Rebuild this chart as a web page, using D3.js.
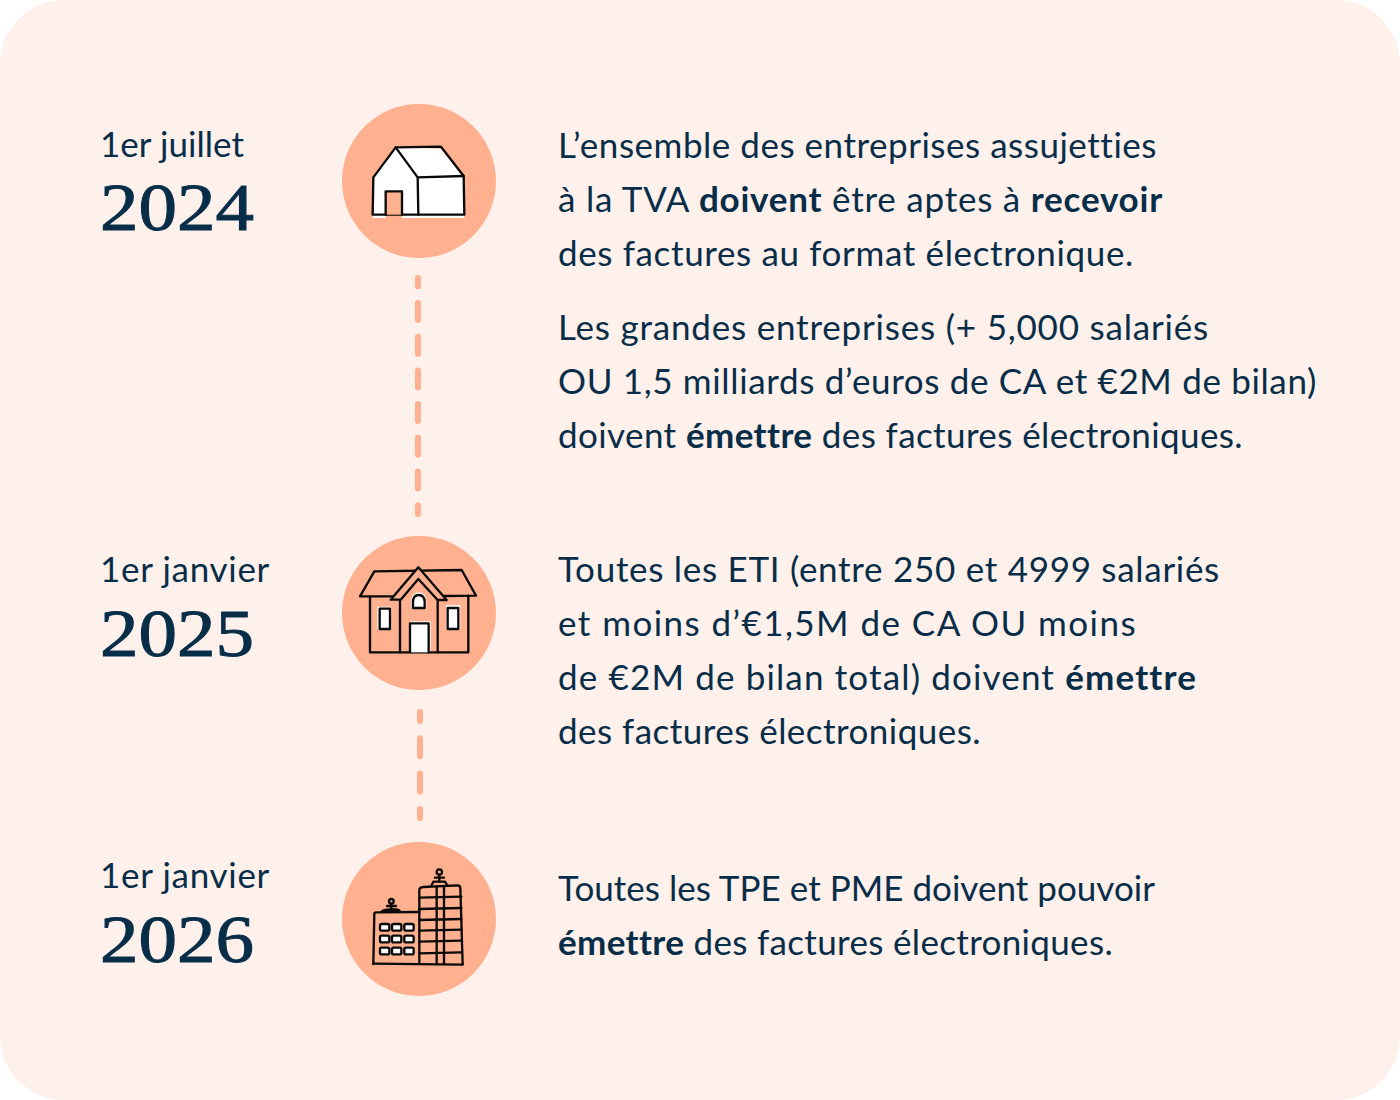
<!DOCTYPE html>
<html lang="fr">

<head>
    <meta charset="UTF-8">
    <script src="https://d3js.org/d3.v7.min.js"></script>
    <title>Facturation électronique</title>
    <style>
        html, body { margin: 0; padding: 0; background: #fff; }
        svg { display: block; }
        text { font-variant-ligatures: none; font-kerning: normal; }
    </style>
</head>

<body>
    <svg id="chart" width="1400" height="1100" viewBox="0 0 1400 1100"></svg>
    <script>
        const years = ["2024", "2025", "2026"];
        const dates = ["1er juillet", "1er janvier", "1er janvier"];
        const icons = ["house", "villa", "towers"];

        // each line is a list of runs, b = bold
        const text2024 = [
            [{ t: "L’ensemble des entreprises assujetties" }],
            [{ t: "à la TVA " }, { t: "doivent", b: 1 }, { t: " être aptes à " }, { t: "recevoir", b: 1 }],
            [{ t: "des factures au format électronique." }]
        ];
        const text2024b = [
            [{ t: "Les grandes entreprises (+ 5,000 salariés" }],
            [{ t: "OU 1,5 milliards d’euros de CA et €2M de bilan)" }],
            [{ t: "doivent " }, { t: "émettre", b: 1 }, { t: " des factures électroniques." }]
        ];
        const text2025 = [
            [{ t: "Toutes les ETI (entre 250 et 4999 salariés" }],
            [{ t: "et moins d’€1,5M de CA OU moins" }],
            [{ t: "de €2M de bilan total) doivent " }, { t: "émettre", b: 1 }],
            [{ t: "des factures électroniques." }]
        ];
        const text2026 = [
            [{ t: "Toutes les TPE et PME doivent pouvoir" }],
            [{ t: "émettre", b: 1 }, { t: " des factures électroniques." }]
        ];

        const paragraphs = [text2024, text2024b, text2025, text2026];

        const navy = "#082d48", peach = "#ffb08f", bg = "#fef0eb", ink = "#0a0a0a";
        const sans = "Lato, sans-serif", serif = "'Liberation Serif', serif";

        const svg = d3.select("#chart");

        svg.append("rect")
            .attr("width", 1400).attr("height", 1100)
            .attr("rx", 64)
            .attr("fill", bg);

        const yCircle = d3.scaleOrdinal().domain(years).range([181, 613, 919]);

        // stretch a line to where it ends in the reference, the fonts differ
        function fitWidth(sel, right) {
            sel.each(function (d, i) {
                const node = d3.select(this);
                const x = +node.attr("x") || 0;
                const chars = node.text().length;
                const len = this.getComputedTextLength();
                node.style("letter-spacing", ((right(d, i) - x - len) / chars) + "px");
            });
        }

        // dashed connectors between the circles
        svg.selectAll("line.link")
            .data([
                { x: 418, y1: 278, y2: 514, dash: "17 16.7", offset: 8.7 },
                { x: 420, y1: 712, y2: 818, dash: "18 17.3", offset: 9 }
            ])
            .enter().append("line")
            .attr("class", "link")
            .attr("x1", d => d.x).attr("x2", d => d.x)
            .attr("y1", d => d.y1).attr("y2", d => d.y2)
            .attr("stroke", peach)
            .attr("stroke-width", 6)
            .attr("stroke-linecap", "round")
            .attr("stroke-dasharray", d => d.dash)
            .attr("stroke-dashoffset", d => d.offset);

        svg.selectAll("circle.step")
            .data(years)
            .enter().append("circle")
            .attr("class", "step")
            .attr("cx", 419)
            .attr("cy", d => yCircle(d))
            .attr("r", 77)
            .attr("fill", peach);

        const left = svg.selectAll("g.date")
            .data(years)
            .enter().append("g")
            .attr("class", "date")
            .attr("transform", d => `translate(100,${yCircle(d)})`);

        left.append("text")
            .attr("y", d => d == "2024" ? -24 : -31)
            .attr("font-family", sans)
            .attr("font-size", 35)
            .attr("fill", navy)
            .text((d, i) => dates[i])
            .call(fitWidth, d => d == "2024" ? 144 : 170);

        left.append("text")
            .attr("y", d => d == "2024" ? 49 : 42.5)
            .attr("font-family", serif)
            .attr("font-size", 68)
            .attr("stroke", navy)
            .attr("stroke-width", 1)
            .attr("fill", navy)
            .attr("textLength", 154)
            .attr("lengthAdjust", "spacingAndGlyphs")
            .text(d => d);

        // paragraphs, first baseline of each
        const firstBaseline = [158, 340, 582, 901];
        const lineGap = 54;
        const lineEnds = [
            [1157, 1163, 1134],
            [1209, 1317, 1243],
            [1220, 1137, 1197, 981],
            [1155, 1113]
        ];

        svg.selectAll("g.para")
            .data(paragraphs)
            .enter().append("g")
            .attr("class", "para")
            .each(function (lines, p) {
                const rows = d3.select(this).selectAll("text")
                    .data(lines)
                    .enter().append("text")
                    .attr("x", 558)
                    .attr("y", (d, i) => firstBaseline[p] + i * lineGap)
                    .attr("font-family", sans)
                    .attr("font-size", 35)
                    .attr("fill", navy);
                rows.selectAll("tspan")
                    .data(d => d)
                    .enter().append("tspan")
                    .attr("font-weight", d => d.b ? 700 : 400)
                    .text(d => d.t);
                rows.call(fitWidth, (d, i) => lineEnds[p][i]);
            });

        // icons are traced in 3x coordinates from the circle's corner
        function iconGroup(x, y) {
            return svg.append("g")
                .attr("transform", `translate(${x},${y}) scale(${1 / 3})`)
                .attr("fill", "none")
                .attr("stroke", ink)
                .attr("stroke-width", 7)
                .attr("stroke-linejoin", "round")
                .attr("stroke-linecap", "round");
        }

        function drawHouse(g) {
            g.append("path")
                .attr("d", "M100,232 L167,142 L303,146 L371,232 L373,354 L98,354 Z")
                .attr("fill", "#fff").attr("stroke", "none");
            g.append("path")
                .attr("d", "M137,356 V274 H186 V356 Z")
                .attr("fill", peach).attr("stroke", "none");
            g.append("path")
                .attr("d", "M100,232 L167,142 L303,140 L371,228 L373,344 L98,344 Z");
            g.append("path").attr("d", "M167,142 L233,232 L235,344 M233,232 L371,228");
            g.append("path")
                .attr("d", "M137,344 V274 H186 V344")
                .attr("fill", peach);
        }

        function drawVilla(g) {
            g.append("path").attr("d", "M90,187 V355 H385 V185");
            g.append("path").attr("d", "M60,187 L103,112 L365,108 L408,185 L310,186 M60,187 H165");
            g.append("path").attr("d", "M180,197 V355 M293,197 V355");
            g.append("path")
                .attr("d", "M152,197 L235,100 L320,198 L293,198 L235,135 L182,197 Z")
                .attr("fill", peach);
            // white halos that sit off the drawn outlines
            g.append("path")
                .attr("d", "M214,222 V205 Q214,175 236,175 Q259,175 259,205 V222 Z M112,218 H154 V285 H112 Z M318,214 H361 V285 H318 Z")
                .attr("fill", "#fff").attr("stroke", "none");
            g.append("path").attr("d", "M212,262 H272 V352 H212 Z").attr("fill", "#fff").attr("stroke", "none");
            g.append("path")
                .attr("d", "M219,222 V205 Q219,183 236,183 Q254,183 254,205 V222 Z")
                .attr("fill", "#fff");
            g.append("path").attr("d", "M119,224 H150 V285 H119 Z").attr("fill", "#fff");
            g.append("path").attr("d", "M323,222 H355 V285 H323 Z").attr("fill", "#fff");
            g.append("path").attr("d", "M210,355 V268 H266 V355").attr("fill", "#fff");
        }

        function drawTowers(g) {
            g.append("path").attr("d", "M100,372 L103,220 Q103,217 110,217 L238,216");
            g.append("path").attr("d", "M100,371 L368,374");
            g.append("path").attr("d", "M238,372 V150 Q238,142 250,141 L352,136 Q361,136 361,145 L368,372");
            g.selectAll("path.floor")
                .data([173, 207, 240, 272, 305, 340])
                .enter().append("path")
                .attr("class", "floor")
                .attr("d", d => `M238,${d} L364,${d - 3}`);
            g.append("path").attr("d", "M290,142 V372 M312,140 V372");

            // roof antennas
            g.append("circle").attr("cx", 154).attr("cy", 184).attr("r", 7);
            g.append("path").attr("d", "M154,191 V208 M141,198 H168");
            g.append("path").attr("d", "M125,215 Q130,208 150,208 H170 Q178,209 181,215 Z").attr("fill", "#7a4a38");
            g.append("circle").attr("cx", 298).attr("cy", 96).attr("r", 8);
            g.append("path").attr("d", "M298,104 V125 M285,113 H312");
            g.append("path").attr("d", "M275,136 L280,125 H315 L322,136");

            const wx = [134, 170, 207], wy = [262, 297, 333];
            wy.forEach(y => wx.forEach(x => {
                g.append("rect")
                    .attr("x", x - 14).attr("y", y - 10)
                    .attr("width", 28).attr("height", 20)
                    .attr("rx", 5)
                    .attr("fill", "#fff");
            }));
        }

        const drawers = { house: drawHouse, villa: drawVilla, towers: drawTowers };
        const iconOrigin = [[340, 100], [340, 534], [340, 840]];
        icons.forEach((name, i) => drawers[name](iconGroup(iconOrigin[i][0], iconOrigin[i][1])));
    </script>
</body>

</html>
